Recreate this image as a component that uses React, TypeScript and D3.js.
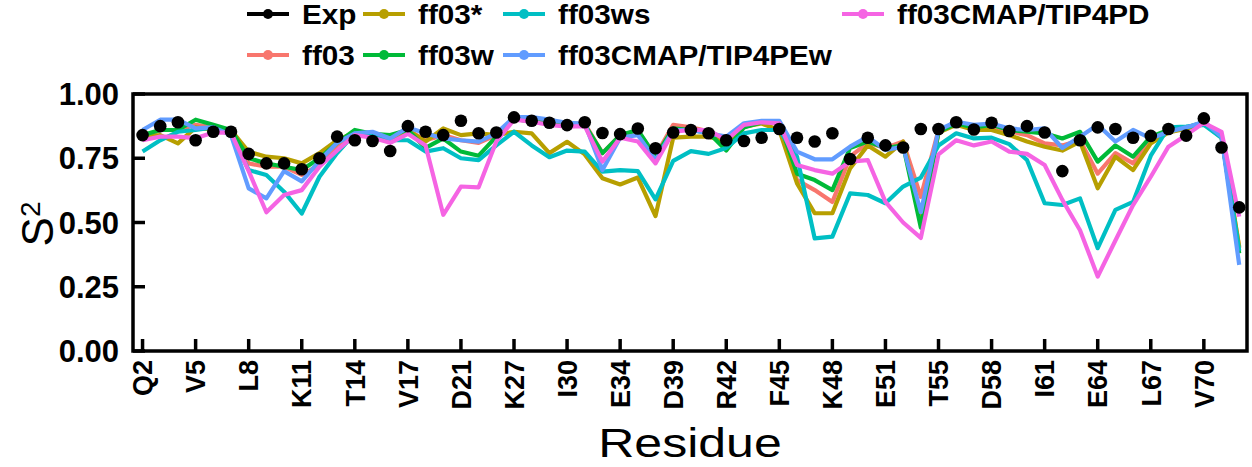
import React, { useEffect, useRef } from 'react';
import * as d3 from 'd3';

// residues with data (prolines and a few others are missing)
const residues = [
    'Q2', 'I3', 'F4', 'V5', 'K6', 'T7', 'L8', 'T9', 'G10', 'K11', 'T12', 'I13', 'T14', 'L15', 'E16',
    'V17', 'E18', 'S20', 'D21', 'I23', 'N25', 'K27', 'A28', 'K29', 'I30', 'Q31', 'D32', 'E34', 'G35',
    'I36', 'D39', 'Q40', 'Q41', 'R42', 'L43', 'I44', 'F45', 'A46', 'G47', 'K48', 'Q49', 'L50', 'E51',
    'D52', 'R54', 'T55', 'L56', 'S57', 'D58', 'Y59', 'N60', 'I61', 'Q62', 'K63', 'E64', 'S65', 'T66',
    'L67', 'H68', 'L69', 'V70', 'L71', 'R72',
];

const expS2 = [
    0.84, 0.875, 0.89, 0.82, 0.853, 0.853, 0.767, 0.73, 0.73, 0.707, 0.75, 0.834, 0.82, 0.817, 0.778,
    0.875, 0.853, 0.84, 0.896, 0.847, 0.85, 0.909, 0.896, 0.888, 0.879, 0.89, 0.848, 0.844, 0.866,
    0.789, 0.85, 0.86, 0.847, 0.82, 0.817, 0.83, 0.864, 0.83, 0.815, 0.847, 0.747, 0.83, 0.8, 0.792,
    0.864, 0.864, 0.89, 0.862, 0.888, 0.856, 0.875, 0.85, 0.7, 0.82, 0.87, 0.864, 0.83, 0.837, 0.864,
    0.838, 0.905, 0.792, 0.559,
];

const ff03 = [
    0.83, 0.86, 0.86, 0.88, 0.87, 0.86, 0.73, 0.717, 0.717, 0.685, 0.724, 0.8, 0.85, 0.84, 0.83,
    0.86, 0.82, 0.84, 0.82, 0.81, 0.84, 0.9, 0.9, 0.895, 0.885, 0.885, 0.77, 0.84, 0.855,
    0.76, 0.88, 0.87, 0.855, 0.82, 0.875, 0.89, 0.89, 0.665, 0.626, 0.58, 0.756, 0.81, 0.79, 0.815,
    0.6, 0.86, 0.885, 0.87, 0.875, 0.855, 0.84, 0.808, 0.8, 0.82, 0.69, 0.77, 0.73, 0.82, 0.855,
    0.865, 0.885, 0.835, 0.4,
];

const ff03star = [
    0.83, 0.84, 0.808, 0.87, 0.86, 0.86, 0.775, 0.756, 0.75, 0.73, 0.77, 0.82, 0.85, 0.83, 0.82,
    0.86, 0.815, 0.866, 0.84, 0.847, 0.84, 0.853, 0.847, 0.77, 0.814, 0.765, 0.672, 0.648, 0.675,
    0.525, 0.83, 0.834, 0.834, 0.815, 0.873, 0.885, 0.86, 0.652, 0.536, 0.536, 0.71, 0.8, 0.756, 0.815,
    0.5, 0.85, 0.88, 0.86, 0.86, 0.84, 0.815, 0.795, 0.78, 0.815, 0.633, 0.756, 0.704, 0.808, 0.85,
    0.865, 0.885, 0.83, 0.405,
];

const ff03w = [
    0.84, 0.86, 0.86, 0.9, 0.88, 0.86, 0.75, 0.73, 0.717, 0.704, 0.75, 0.81, 0.86, 0.845, 0.84,
    0.86, 0.79, 0.827, 0.776, 0.76, 0.834, 0.905, 0.89, 0.89, 0.88, 0.88, 0.77, 0.84, 0.86,
    0.756, 0.866, 0.86, 0.85, 0.78, 0.87, 0.89, 0.89, 0.69, 0.665, 0.626, 0.79, 0.815, 0.79, 0.8,
    0.48, 0.853, 0.885, 0.87, 0.88, 0.86, 0.853, 0.847, 0.827, 0.853, 0.737, 0.8, 0.756, 0.834, 0.86,
    0.87, 0.89, 0.84, 0.38,
];

const ff03ws = [
    0.776, 0.82, 0.853, 0.86, 0.87, 0.84, 0.704, 0.685, 0.62, 0.535, 0.678, 0.77, 0.847, 0.84, 0.82,
    0.82, 0.776, 0.789, 0.75, 0.743, 0.8, 0.853, 0.8, 0.754, 0.78, 0.776, 0.698, 0.704, 0.7,
    0.59, 0.74, 0.778, 0.767, 0.79, 0.847, 0.86, 0.86, 0.756, 0.438, 0.445, 0.613, 0.607, 0.575, 0.64,
    0.675, 0.8, 0.847, 0.827, 0.83, 0.805, 0.743, 0.575, 0.568, 0.594, 0.4, 0.549, 0.58, 0.76, 0.87,
    0.873, 0.88, 0.83, 0.39,
];

const tip4pew = [
    0.86, 0.9, 0.9, 0.866, 0.87, 0.84, 0.633, 0.594, 0.7, 0.66, 0.74, 0.81, 0.847, 0.853, 0.827,
    0.87, 0.847, 0.827, 0.82, 0.815, 0.847, 0.91, 0.91, 0.9, 0.888, 0.885, 0.704, 0.83, 0.84,
    0.743, 0.86, 0.86, 0.847, 0.834, 0.886, 0.896, 0.896, 0.776, 0.746, 0.746, 0.795, 0.834, 0.782, 0.795,
    0.54, 0.86, 0.892, 0.88, 0.885, 0.866, 0.86, 0.866, 0.79, 0.834, 0.88, 0.815, 0.86, 0.827, 0.853,
    0.87, 0.892, 0.834, 0.335,
];

const tip4pd = [
    0.82, 0.834, 0.834, 0.828, 0.85, 0.85, 0.7, 0.54, 0.607, 0.626, 0.717, 0.78, 0.84, 0.83, 0.81,
    0.845, 0.8, 0.53, 0.64, 0.637, 0.815, 0.9, 0.892, 0.88, 0.873, 0.875, 0.737, 0.83, 0.815,
    0.73, 0.853, 0.86, 0.86, 0.82, 0.88, 0.89, 0.886, 0.724, 0.704, 0.69, 0.737, 0.743, 0.58, 0.5,
    0.44, 0.765, 0.82, 0.8, 0.815, 0.776, 0.767, 0.724, 0.588, 0.47, 0.29, 0.43, 0.568, 0.678, 0.795,
    0.84, 0.888, 0.853, 0.523,
];

const yTicks = [0, 0.25, 0.5, 0.75, 1];

const series = [
    { name: 'ff03', color: '#F8766D', values: ff03 },
    { name: 'ff03*', color: '#B79F00', values: ff03star },
    { name: 'ff03w', color: '#00BA38', values: ff03w },
    { name: 'ff03ws', color: '#00BFC4', values: ff03ws },
    { name: 'ff03CMAP/TIP4PEw', color: '#619CFF', values: tip4pew },
    { name: 'ff03CMAP/TIP4PD', color: '#F564E3', values: tip4pd },
];

// legend is laid out column by column, two rows
const legendItems = [
    { name: 'Exp', color: '#000000' },
    ...series.map((s) => ({ name: s.name, color: s.color })),
];

const width = 1252;
const height = 467;
const FONT = '"Liberation Sans", Arial, Helvetica, sans-serif';

const App: React.FC = () => {
    const svgRef = useRef<SVGSVGElement | null>(null);

    useEffect(() => {
        if (svgRef.current) draw();
    }, []);

    // widen a text node a little, the original figure is stretched sideways
    const stretch = (sel: d3.Selection<SVGTextElement, unknown, null, undefined>, k: number) => {
        const node = sel.node();
        if (!node) return;
        const len = node.getComputedTextLength();
        sel.attr('textLength', len * k).attr('lengthAdjust', 'spacingAndGlyphs');
    };

    const draw = () => {
        const svg = d3.select(svgRef.current);
        svg.selectAll('*').remove();

        const left = 133;
        const right = 1247;
        const top = 94;
        const bottom = 351;

        const x = d3.scaleLinear().domain([-0.54, residues.length - 1 + 0.44]).range([left, right]);
        const y = d3.scaleLinear().domain([0, 1]).range([bottom, top]);

        // series lines
        const line = d3
            .line<number>()
            .x((_, i) => x(i))
            .y((d) => y(d));

        series.forEach((s) => {
            svg.append('path')
                .datum(s.values)
                .attr('d', line)
                .attr('fill', 'none')
                .attr('stroke', s.color)
                .attr('stroke-width', 4.2)
                .attr('stroke-linejoin', 'round');
        });

        // experimental points
        svg.append('g')
            .selectAll('circle')
            .data(expS2)
            .enter()
            .append('circle')
            .attr('cx', (_, i) => x(i))
            .attr('cy', (d) => y(d))
            .attr('r', 6.3)
            .attr('fill', '#000');

        // frame
        svg.append('rect')
            .attr('x', left)
            .attr('y', top)
            .attr('width', right - left)
            .attr('height', bottom - top)
            .attr('fill', 'none')
            .attr('stroke', '#000')
            .attr('stroke-width', 3.5);

        // y ticks (inward)
        const yg = svg.append('g');
        yTicks.forEach((t) => {
            yg.append('line')
                .attr('x1', left)
                .attr('x2', left + 12)
                .attr('y1', y(t))
                .attr('y2', y(t))
                .attr('stroke', '#000')
                .attr('stroke-width', 3.5);
            yg.append('text')
                .attr('x', 119)
                .attr('y', y(t))
                .attr('dy', '0.36em')
                .attr('text-anchor', 'end')
                .style('font-family', FONT)
                .style('font-weight', 'bold')
                .style('font-size', '31px')
                .text(d3.format('.2f')(t));
        });

        // x ticks every third residue
        const xg = svg.append('g');
        residues.forEach((r, i) => {
            if (i % 3 !== 0) return;
            xg.append('line')
                .attr('x1', x(i))
                .attr('x2', x(i))
                .attr('y1', bottom)
                .attr('y2', bottom - 12)
                .attr('stroke', '#000')
                .attr('stroke-width', 3.5);
            xg.append('text')
                .attr('transform', `translate(${x(i)},${bottom + 9}) rotate(-90)`)
                .attr('dy', '0.36em')
                .attr('text-anchor', 'end')
                .style('font-family', FONT)
                .style('font-weight', 'bold')
                .style('font-size', '27px')
                .text(r);
        });

        // axis titles
        const xt = svg.append('text')
            .attr('x', 690)
            .attr('y', 457)
            .attr('text-anchor', 'middle')
            .style('font-family', FONT)
            .style('font-size', '40px')
            .text('Residue');
        stretch(xt, 1.25);

        const yt = svg.append('text')
            .attr('transform', `translate(53,224) rotate(-90)`)
            .attr('text-anchor', 'middle')
            .style('font-family', FONT)
            .style('font-size', '44px');
        yt.append('tspan').text('S');
        yt.append('tspan').attr('dy', '-0.45em').style('font-size', '28px').text('2');

        // legend
        const colX = [247, 363, 503, 842];
        const rowY = [14, 55];
        const lg = svg.append('g');
        legendItems.forEach((item, k) => {
            const col = Math.floor(k / 2);
            const row = k % 2;
            const cx = colX[col];
            const cy = rowY[row];
            lg.append('line')
                .attr('x1', cx)
                .attr('x2', cx + 42)
                .attr('y1', cy)
                .attr('y2', cy)
                .attr('stroke', item.color)
                .attr('stroke-width', 4.2);
            lg.append('circle')
                .attr('cx', cx + 21)
                .attr('cy', cy)
                .attr('r', 5)
                .attr('fill', item.color);
            const t = lg.append('text')
                .attr('x', cx + 55)
                .attr('y', cy)
                .attr('dy', '0.36em')
                .style('font-family', FONT)
                .style('font-weight', 'bold')
                .style('font-size', '27px')
                .text(item.name);
            stretch(t, 1.1);
        });
    };

    return (
        <svg
            ref={svgRef}
            width={width}
            height={height}
            style={{ position: 'absolute', left: 0, top: 0, background: '#fff' }}
        ></svg>
    );
};

export default App;
